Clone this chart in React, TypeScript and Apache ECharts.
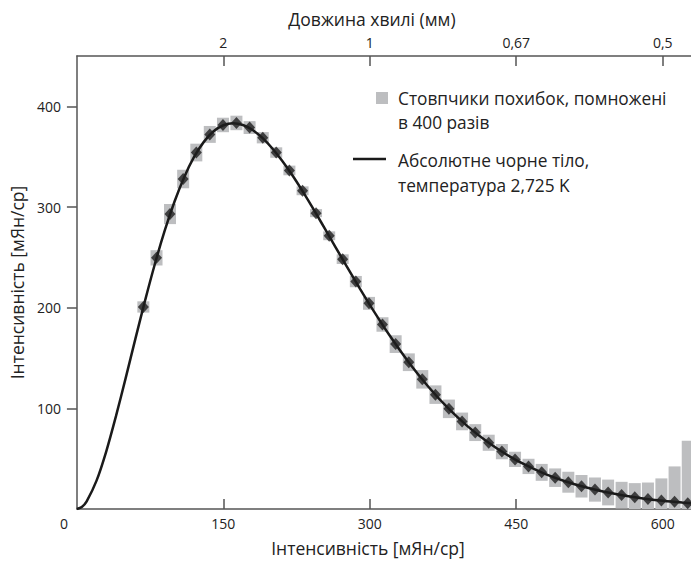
import React, { useEffect, useRef } from "react";
import * as echarts from "echarts";

// FIRAS measured points: frequency (GHz), intensity (MJy/sr)
const freqGHz = [68.05, 81.54, 95.33, 108.82, 122.31, 136.1, 149.6, 163.39, 176.88, 190.37, 204.16, 217.65, 231.14, 244.93, 258.42, 272.21, 285.7, 299.19, 312.98, 326.47, 339.96, 353.75, 367.24, 381.03, 394.52, 408.01, 421.8, 435.29, 448.78, 462.57, 476.07, 489.86, 503.35, 516.84, 530.63, 544.12, 557.91, 571.4, 584.89, 598.68, 612.17, 625.66];
const intensity = [200.7, 249.5, 293.0, 327.8, 354.1, 372.1, 381.5, 383.5, 378.9, 368.8, 354.1, 336.3, 316.1, 293.9, 271.4, 248.2, 225.9, 204.3, 183.3, 163.8, 145.8, 128.8, 113.6, 99.5, 87.0, 75.9, 65.8, 57.0, 49.2, 42.3, 36.4, 31.1, 26.6, 22.6, 19.3, 16.4, 13.8, 11.7, 9.9, 8.4, 7.1, 5.8];
// error bar half-heights, already multiplied by 400 (MJy/sr)
const errorX400 = [5.6, 7.6, 10, 9.2, 8.8, 8.4, 7.2, 7.2, 6.4, 5.6, 5.2, 4.8, 4.4, 4, 4.4, 4.8, 5.6, 6.4, 7.2, 8.8, 8.8, 9.2, 9.2, 9.2, 8.8, 8.4, 8, 7.6, 7.6, 7.6, 8.4, 9.2, 10.4, 11.2, 12, 12.8, 13.2, 14, 16.4, 22, 35.2, 62];

// Blackbody curve (2.725 K) read as points: frequency (GHz), intensity (MJy/sr)
const curveFreq = [0, 5, 10, 20, 30, 40, 50, 60, 70, 80, 90, 100, 110, 120, 130, 140, 150, 160, 170, 180, 190, 200, 210, 220, 230, 240, 250, 260, 270, 280, 290, 300, 320, 340, 360, 380, 400, 420, 440, 460, 480, 500, 520, 540, 560, 580, 600, 620, 640];
const curveVal = [0, 2.0, 7.65, 27.9, 57.1, 92.2, 130.3, 169.5, 207.8, 243.9, 276.7, 305.5, 329.9, 349.7, 364.7, 375.2, 381.2, 383.2, 381.5, 376.5, 368.6, 358.4, 346.2, 332.5, 317.5, 301.6, 285.1, 268.4, 251.6, 235.0, 218.6, 202.8, 172.8, 145.6, 121.5, 100.4, 82.3, 67.0, 54.1, 43.5, 34.7, 27.6, 21.8, 17.2, 13.5, 10.5, 8.2, 6.4, 4.9];

const bottomTicks = [150, 300, 450, 600];
const bottomLabels = [0, 150, 300, 450, 600];
const topTicks = [150, 300, 450, 600];
const topTickLabels = ["2", "1", "0,67", "0,5"];
const yTicks = [100, 200, 300, 400];

const FONT = "'Open Sans', 'Noto Sans', sans-serif";
const TEXT = "#222222";
const AXIS = "#555555";

export default function App() {
  const ref = useRef<HTMLDivElement>(null);
  useEffect(() => {
    if (!ref.current) return;
    const chart = echarts.init(ref.current, null, { renderer: "svg" });
    const barData = freqGHz.map((f, i) => [f, intensity[i], errorX400[i]]);
    const pointData = freqGHz.map((f, i) => [f, intensity[i]]);
    const curveData = curveFreq.map((f, i) => [f, curveVal[i]]);
    chart.setOption({
      animation: false,
      textStyle: { fontFamily: FONT },
      grid: { left: 73, right: 0, top: 56, bottom: 50 },
      xAxis: [
        {
          type: "value",
          position: "bottom",
          min: 0,
          max: 629,
          name: "Інтенсивність [мЯн/ср]",
          nameLocation: "middle",
          nameGap: 30,
          nameTextStyle: { fontSize: 17.5, color: TEXT, fontFamily: FONT, padding: [0, 32, 0, 0] },
          axisLine: { show: true, lineStyle: { color: AXIS, width: 1.5 } },
          axisTick: { show: true, inside: true, length: 10, customValues: bottomTicks, lineStyle: { color: AXIS, width: 1.5 } },
          axisLabel: {
            customValues: bottomLabels,
            margin: 7,
            fontSize: 14,
            color: TEXT,
            fontFamily: FONT,
            formatter: (v: number) => (v === 0 ? "{z|0}" : String(v)),
            rich: { z: { padding: [0, 26, 0, 0], fontSize: 14, color: TEXT, fontFamily: FONT } },
          },
          splitLine: { show: false },
        },
        {
          type: "value",
          position: "top",
          min: 0,
          max: 629,
          name: "Довжина хвилі (мм)",
          nameLocation: "middle",
          nameGap: 28,
          nameTextStyle: { fontSize: 17.5, color: TEXT, fontFamily: FONT, padding: [0, 24, 0, 0] },
          axisLine: { show: true, lineStyle: { color: AXIS, width: 1.5 } },
          axisTick: { show: true, inside: true, length: 10, customValues: topTicks, lineStyle: { color: AXIS, width: 1.5 } },
          axisLabel: {
            customValues: topTicks,
            margin: 7,
            fontSize: 14,
            color: TEXT,
            fontFamily: FONT,
            formatter: (v: number) => {
              const i = topTicks.indexOf(v);
              return i >= 0 ? topTickLabels[i] : "";
            },
          },
          splitLine: { show: false },
        },
      ],
      yAxis: {
        type: "value",
        min: 0,
        max: 450,
        name: "Інтенсивність [мЯн/ср]",
        nameLocation: "middle",
        nameGap: 46,
        nameTextStyle: { fontSize: 17.5, color: TEXT, fontFamily: FONT },
        axisLine: { show: true, lineStyle: { color: AXIS, width: 1.5 } },
        axisTick: { show: true, inside: false, length: 10, customValues: yTicks, lineStyle: { color: AXIS, width: 1.5 } },
        axisLabel: { customValues: yTicks, margin: 16, fontSize: 14, color: TEXT, fontFamily: FONT },
        splitLine: { show: false },
      },
      series: [
        {
          name: "Стовпчики похибок",
          type: "custom",
          xAxisIndex: 0,
          yAxisIndex: 0,
          clip: true,
          data: barData,
          renderItem: (params: any, api: any) => {
            const x = api.value(0);
            const y = api.value(1);
            const e = api.value(2);
            const top = api.coord([x, y + e]);
            const bot = api.coord([x, y - e]);
            const w = 12;
            const cs = params.coordSys;
            const r = echarts.graphic.clipRectByRect(
              { x: top[0] - w / 2, y: top[1], width: w, height: bot[1] - top[1] },
              { x: cs.x, y: cs.y, width: cs.width, height: cs.height }
            );
            if (!r) return null;
            return { type: "rect", shape: r, style: { fill: "#bdbec0" } };
          },
          z: 1,
        },
        {
          name: "Абсолютне чорне тіло",
          type: "line",
          data: curveData,
          smooth: 0.3,
          showSymbol: false,
          clip: true,
          lineStyle: { color: "#1a1a1a", width: 2.5 },
          itemStyle: { color: "#1a1a1a" },
          z: 2,
        },
        {
          name: "FIRAS",
          type: "scatter",
          data: pointData,
          symbol: "diamond",
          symbolSize: [11, 12],
          itemStyle: { color: "#1e1e1e" },
          clip: true,
          z: 3,
        },
      ],
      graphic: [
        { type: "rect", shape: { x: 376, y: 92, width: 12, height: 12 }, style: { fill: "#bdbec0" } },
        { type: "text", x: 398, y: 98, style: { text: "Стовпчики похибок, помножені", fontSize: 17.3, fill: TEXT, fontFamily: FONT, verticalAlign: "middle" } },
        { type: "text", x: 398, y: 122, style: { text: "в 400 разів", fontSize: 17.3, fill: TEXT, fontFamily: FONT, verticalAlign: "middle" } },
        { type: "line", shape: { x1: 353, y1: 159, x2: 386, y2: 159 }, style: { stroke: "#1a1a1a", lineWidth: 2.5 } },
        { type: "text", x: 398, y: 160, style: { text: "Абсолютне чорне тіло,", fontSize: 17.3, fill: TEXT, fontFamily: FONT, verticalAlign: "middle" } },
        { type: "text", x: 398, y: 185, style: { text: "температура 2,725 K", fontSize: 17.3, fill: TEXT, fontFamily: FONT, verticalAlign: "middle" } },
      ],
    });
    return () => chart.dispose();
  }, []);
  return (
    <div
      ref={ref}
      style={{ position: "fixed", left: 0, top: 0, width: 691, height: 562, background: "#ffffff" }}
    />
  );
}
